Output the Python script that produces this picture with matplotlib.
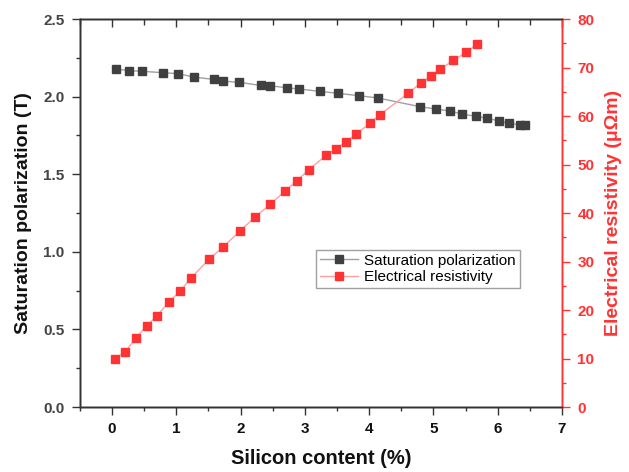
import matplotlib
matplotlib.use('Agg')
from matplotlib import pyplot as plt
from matplotlib.ticker import MultipleLocator, FormatStrFormatter

plt.rcParams['font.family'] = ['Liberation Sans', 'DejaVu Sans']

# silicon content (%) vs saturation polarization (T)
si_pol = [0.06, 0.27, 0.47, 0.80, 1.03, 1.27, 1.58, 1.72, 1.98, 2.31, 2.46, 2.72,
          2.91, 3.23, 3.52, 3.84, 4.14, 4.79, 5.04, 5.26, 5.44, 5.66, 5.84, 6.02,
          6.17, 6.34, 6.42]
pol = [2.178, 2.167, 2.163, 2.154, 2.148, 2.126, 2.111, 2.100, 2.092, 2.072, 2.070,
       2.057, 2.049, 2.034, 2.021, 2.006, 1.991, 1.935, 1.920, 1.907, 1.888, 1.873,
       1.860, 1.843, 1.828, 1.819, 1.819]

# silicon content (%) vs electrical resistivity (uOhm m)
si_res = [0.04, 0.20, 0.37, 0.54, 0.70, 0.88, 1.06, 1.23, 1.51, 1.73, 1.99, 2.23,
          2.46, 2.69, 2.88, 3.06, 3.33, 3.49, 3.64, 3.79, 4.01, 4.17, 4.61, 4.81,
          4.96, 5.10, 5.31, 5.51, 5.67]
res = [10.0, 11.3, 14.2, 16.8, 18.8, 21.6, 23.9, 26.6, 30.5, 33.0, 36.3, 39.2,
       41.8, 44.5, 46.7, 48.9, 51.9, 53.3, 54.7, 56.2, 58.5, 60.3, 64.7, 66.9,
       68.2, 69.6, 71.5, 73.1, 74.8]

dark = '#333333'
red = '#ff3333'

fig = plt.figure(figsize=(6.29, 4.72), dpi=100)
ax = fig.add_axes([0.127, 0.1377, 0.7665, 0.822])
ax2 = ax.twinx()

l1, = ax.plot(si_pol, pol, color='#a0a0a0', lw=1.0, marker='s', ms=5.2,
              mfc='#404040', mec='#404040', label='Saturation polarization')
l2, = ax2.plot(si_res, res, color='#ffa0a0', lw=1.0, marker='s', ms=5.2,
               mfc=red, mec=red, label='Electrical resistivity')

ax.set_xlim(-0.5, 7)
ax.set_ylim(0, 2.5)
ax2.set_ylim(0, 80)
ax.xaxis.set_major_locator(MultipleLocator(1))
ax.xaxis.set_minor_locator(MultipleLocator(0.5))
ax.yaxis.set_major_locator(MultipleLocator(0.5))
ax.yaxis.set_minor_locator(MultipleLocator(0.25))
ax2.yaxis.set_major_locator(MultipleLocator(10))
ax2.yaxis.set_minor_locator(MultipleLocator(5))
ax.yaxis.set_major_formatter(FormatStrFormatter('%.1f'))

# top ticks point inward, no labels
ax3 = ax.twiny()
ax3.set_xlim(-0.5, 7)
ax3.xaxis.set_major_locator(MultipleLocator(1))
ax3.xaxis.set_minor_locator(MultipleLocator(0.5))
ax3.tick_params(axis='x', which='both', top=True, bottom=False, labeltop=False,
                labelbottom=False, direction='in', width=1, color=dark)
ax3.tick_params(axis='x', which='major', length=6)
ax3.tick_params(axis='x', which='minor', length=4)

for a in (ax, ax2, ax3):
    for s in ['left', 'bottom', 'top']:
        a.spines[s].set_color(dark)
    a.spines['right'].set_color(red)
    for s in a.spines.values():
        s.set_linewidth(1.0)

ax.tick_params(axis='x', which='both', direction='out', colors=dark,
               labelcolor='#111111', labelsize=11, pad=5)
ax.tick_params(axis='x', which='major', length=6, width=1)
ax.tick_params(axis='x', which='minor', length=3, width=1)
ax.tick_params(axis='y', which='major', direction='out', length=6, width=1,
               colors=dark, labelcolor='#444444', labelsize=11, pad=5)
ax.tick_params(axis='y', which='minor', direction='out', length=3, width=1,
               colors=dark)
ax2.tick_params(axis='y', which='major', direction='out', length=6, width=1,
                colors=red, labelsize=11, pad=5)
ax2.tick_params(axis='y', which='minor', direction='out', length=3, width=1,
                colors=red)

for lab in ax.get_xticklabels() + ax.get_yticklabels() + ax2.get_yticklabels():
    lab.set_fontweight('bold')

ax.set_xlabel('Silicon content (%)', fontsize=14.5, fontweight='bold',
              color='#111111', labelpad=9)
ax.set_ylabel('Saturation polarization (T)', fontsize=14, fontweight='bold',
              color='#111111', labelpad=8)
ax2.set_ylabel('Electrical resistivity (μΩm)', fontsize=14, fontweight='bold',
               color=red, labelpad=8)

leg = ax3.legend([l1, l2], ['Saturation polarization', 'Electrical resistivity'],
                 loc='upper left', bbox_to_anchor=(0.49, 0.405), borderaxespad=0,
                 fontsize=11, frameon=True, fancybox=False, handlelength=2.5,
                 borderpad=0.25, labelspacing=0.15, handletextpad=0.4)
leg.get_frame().set_edgecolor('#888888')
leg.get_frame().set_linewidth(1.0)

fig.savefig('out.png', dpi=100)
